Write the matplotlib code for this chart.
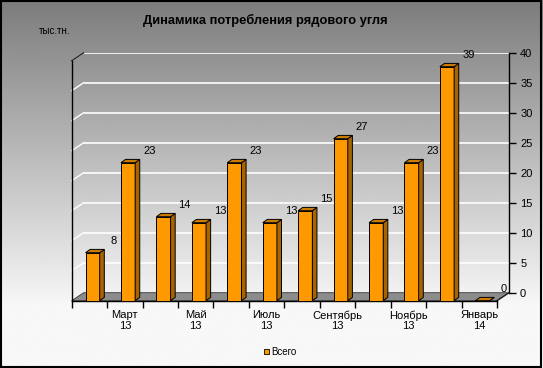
import matplotlib.pyplot as plt
import numpy as np
from matplotlib.patches import Polygon, Patch, Rectangle

plt.rcParams['font.family'] = ['Liberation Sans', 'DejaVu Sans']

# data
months = ['Февраль\n13', 'Март\n13', 'Апрель\n13', 'Май\n13', 'Июнь\n13',
          'Июль\n13', 'Август\n13', 'Сентябрь\n13', 'Октябрь\n13',
          'Ноябрь\n13', 'Декабрь\n13', 'Январь\n14']
values = [8, 23, 14, 13, 23, 13, 15, 27, 13, 23, 39, 0]
shown_labels = [m if i % 2 == 1 else '' for i, m in enumerate(months)]
y_ticks = [0, 5, 10, 15, 20, 25, 30, 35, 40]

W, H = 543, 368
fig = plt.figure(figsize=(W / 100, H / 100), dpi=100)

# background gradient
bg = fig.add_axes([0, 0, 1, 1], zorder=-5)
grad = np.linspace(0, 1, 256).reshape(-1, 1)
grad = np.clip(grad * 1.2, 0, 1)
bg.imshow(grad, aspect='auto', cmap='gray', vmin=-1.0, vmax=1.06,
          extent=[0, 1, 0, 1], origin='upper')
bg.set_xlim(0, 1)
bg.set_ylim(0, 1)
bg.axis('off')
fig.patches.append(Rectangle((0.002, 0.003), 0.995, 0.994,
                             transform=fig.transFigure, fill=False,
                             edgecolor='black', linewidth=1.5))

# front plane and back wall (3D-look offset in pixels)
x0, x1 = 71.7, 497.0
y0, ytop = 300.7, 60.7
ox, oy = 12.0, 8.0
front_rect = [x0 / W, (H - y0) / H, (x1 - x0) / W, (y0 - ytop) / H]
back_rect = [(x0 + ox) / W, (H - y0 + oy) / H, (x1 - x0) / W, (y0 - ytop) / H]

n = len(values)
xlim = (-0.5, n - 0.5)
ylim = (0, 40)
ddx = ox / ((x1 - x0) / n)
ddy = oy / ((y0 - ytop) / 40)

back = fig.add_axes(back_rect, zorder=0)
back.patch.set_alpha(0)
back.set_xlim(*xlim)
back.set_ylim(*ylim)
for s in ['left', 'top', 'bottom']:
    back.spines[s].set_visible(False)
back.spines['right'].set_linewidth(1.0)
back.yaxis.tick_right()
back.set_yticks(y_ticks)
back.tick_params(axis='y', direction='out', length=5, width=1,
                 labelsize=8, pad=3)
back.set_xticks([])
back.yaxis.grid(True, color='white', linewidth=1.2)
back.set_axisbelow(True)

ax = fig.add_axes(front_rect, zorder=1)
ax.patch.set_alpha(0)
ax.set_xlim(*xlim)
ax.set_ylim(*ylim)
ax.spines['top'].set_visible(False)
ax.spines['right'].set_visible(False)
ax.spines['left'].set_linewidth(1.0)
ax.spines['bottom'].set_linewidth(1.0)
ax.set_yticks([])
ax.set_xticks(range(n))
ax.set_xticklabels(shown_labels, fontsize=8, linespacing=1.05)
ax.set_xticks([i - 0.5 for i in range(n + 1)], minor=True)
ax.tick_params(axis='x', which='major', length=0, pad=7)
ax.tick_params(axis='x', which='minor', direction='out', length=5, width=1)

# floor
floor = Polygon([(xlim[0], 0), (xlim[1], 0), (xlim[1] + ddx, ddy),
                 (xlim[0] + ddx, ddy)], closed=True, facecolor='#8c8c8c',
                edgecolor='#333333', linewidth=0.6, clip_on=False, zorder=1)
ax.add_patch(floor)
# side wall grid lines and edges
for v in y_ticks[1:]:
    ax.plot([xlim[0], xlim[0] + ddx], [v, v + ddy], color='white',
            linewidth=1.0, clip_on=False, zorder=1)
ax.plot([xlim[0], xlim[0] + ddx], [40, 40 + ddy], color='#222222',
        linewidth=1.0, clip_on=False, zorder=2)
ax.plot([xlim[1], xlim[1] + ddx], [0, ddy], color='#222222',
        linewidth=1.0, clip_on=False, zorder=2)

# bars
bw = 0.4
shift = 0.09
bdx, bdy = 0.13, 0.55
xs = np.arange(n) + shift
ax.bar(xs, values, width=bw, color='#FF9900', edgecolor='black',
       linewidth=0.7, zorder=3, clip_on=False)
for x, v in zip(xs, values):
    l, r = x - bw / 2, x + bw / 2
    side = Polygon([(r, 0), (r + bdx, bdy), (r + bdx, v + bdy), (r, v)],
                   closed=True, facecolor='#A86400', edgecolor='black',
                   linewidth=0.7, zorder=3, clip_on=False)
    top = Polygon([(l, v), (r, v), (r + bdx, v + bdy), (l + bdx, v + bdy)],
                  closed=True, facecolor='#CC7A00', edgecolor='black',
                  linewidth=0.7, zorder=3, clip_on=False)
    ax.add_patch(side)
    ax.add_patch(top)
    ax.text(x + 0.6, v + 2.0, str(v), fontsize=8, ha='center',
            va='center', zorder=4, clip_on=False)

fig.text(265 / W, 1 - 20 / H, 'Динамика потребления рядового угля',
         fontsize=9.3, fontweight='bold', ha='center', va='center')
fig.text(55 / W, 1 - 31 / H, 'тыс.тн.', fontsize=7, ha='center',
         va='center')

fig.legend(handles=[Patch(facecolor='#FF9900', edgecolor='black',
                          linewidth=0.6)],
           labels=['Всего'], loc='center',
           bbox_to_anchor=(280 / W, 1 - 352 / H), frameon=False,
           fontsize=7, handlelength=0.55, handleheight=0.55,
           handletextpad=0.2, borderpad=0)

fig.savefig('out.png', dpi=100)
